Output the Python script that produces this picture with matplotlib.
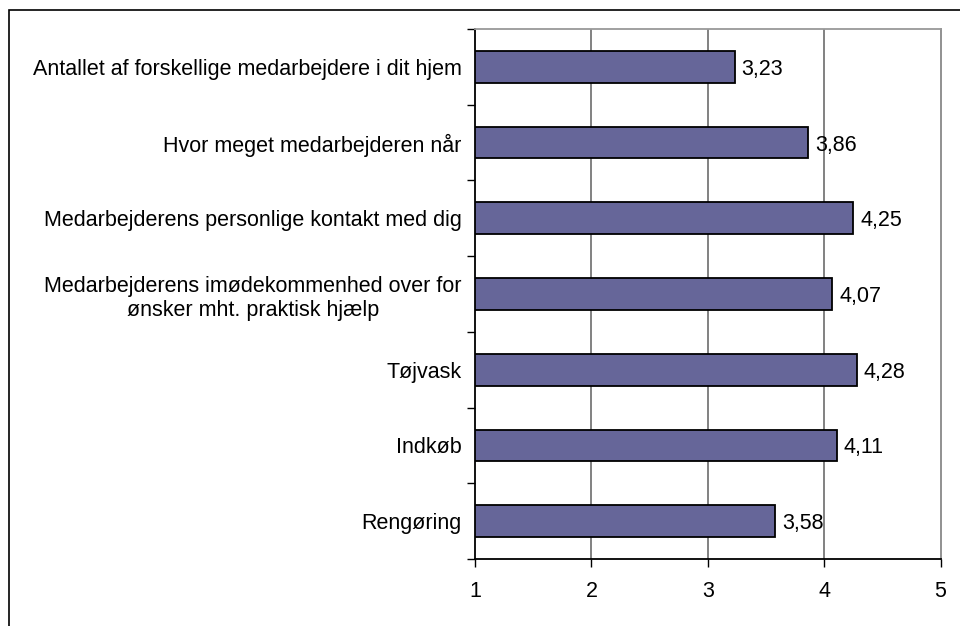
import matplotlib.pyplot as plt
from matplotlib.patches import Rectangle

# data (top to bottom as in the chart)
categories = [
    'Antallet af forskellige medarbejdere i dit hjem',
    'Hvor meget medarbejderen når',
    'Medarbejderens personlige kontakt med dig',
    'Medarbejderens imødekommenhed over for\nønsker mht. praktisk hjælp',
    'Tøjvask',
    'Indkøb',
    'Rengøring',
]
values = [3.23, 3.86, 4.25, 4.07, 4.28, 4.11, 3.58]
xticks = [1, 2, 3, 4, 5]

plt.rcParams['font.family'] = ['Liberation Sans', 'DejaVu Sans']
fs = 15.5

fig = plt.figure(figsize=(9.6, 6.26), dpi=100)
ax = fig.add_axes([0.4948, 0.107, 0.485, 0.8467])

# outer frame (left and top visible only)
fig.patches.append(Rectangle((9 / 960, -0.1), 1.2, (626 - 10) / 626 + 0.1,
                             transform=fig.transFigure, fill=False,
                             edgecolor='black', linewidth=1.2))

ypos = list(range(len(categories)))
ax.barh(ypos, [v - 1 for v in values], left=1, height=0.42,
        color='#666699', edgecolor='black', linewidth=1.3, zorder=3)

for y, v in zip(ypos, values):
    ax.text(v + 0.06, y, f'{v:.2f}'.replace('.', ','), va='center_baseline',
            ha='left', fontsize=fs, zorder=4)

ax.set_xlim(1, 5)
ax.set_ylim(len(categories) - 0.5, -0.5)
ax.set_xticks(xticks)
ax.set_xticklabels([str(t) for t in xticks], fontsize=fs)
ax.set_yticks(ypos)
ax.set_yticklabels(categories, fontsize=fs, ha='right', multialignment='center')
ax.tick_params(axis='y', which='major', length=0, pad=9.5)
ax.set_yticks([y - 0.5 for y in ypos] + [len(categories) - 0.5], minor=True)
ax.tick_params(axis='y', which='minor', length=6, width=1, direction='out')
ax.tick_params(axis='x', length=6, width=1, direction='out', pad=10)

for x in xticks[1:-1]:
    ax.axvline(x, color='#777777', linewidth=1.3, zorder=1)

ax.spines['left'].set_color('black')
ax.spines['bottom'].set_color('black')
ax.spines['top'].set_color('#999999')
ax.spines['right'].set_color('#888888')
for s in ax.spines.values():
    s.set_linewidth(1.3)

fig.savefig('out.png', dpi=100)
